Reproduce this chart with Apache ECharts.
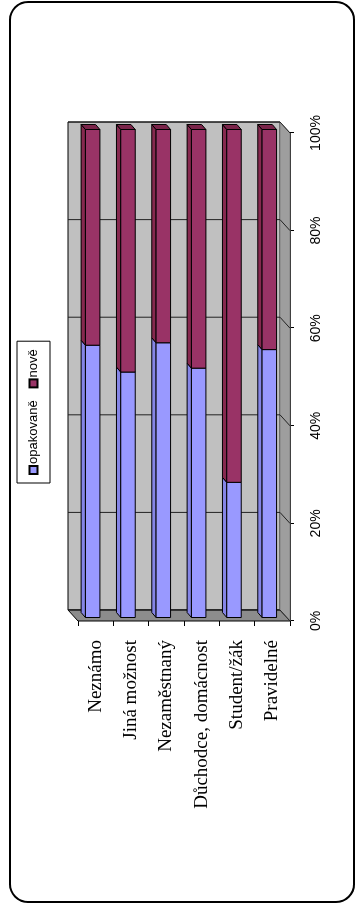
<!DOCTYPE html>
<html>
<head>
<meta charset="utf-8">
<script src="https://cdn.jsdelivr.net/npm/echarts@6/dist/echarts.min.js"></script>
<style>
  html, body { margin: 0; padding: 0; background: #fff; overflow: hidden; width: 355px; height: 910px; }
  /* the chart is laid out landscape and turned a quarter turn counter-clockwise */
  #turn { position: absolute; left: 0; top: 0; width: 910px; height: 355px;
          transform-origin: 0 0; transform: translateY(910px) rotate(-90deg); }
  #chart { width: 910px; height: 355px; }
</style>
</head>
<body>
<div id="turn"><div id="chart"></div></div>
<script>
// shares of repeated vs. new cases per economic activity (percent)
const categories = ['Neznámo', 'Jiná možnost', 'Nezaměstnaný', 'Důchodce, domácnost', 'Student/žák', 'Pravidelné'];
const opakovane = [55.8, 50.3, 56.3, 51.1, 27.7, 54.9];
const nove = [44.2, 49.7, 43.7, 48.9, 72.3, 45.1];
const valueTicks = [0, 20, 40, 60, 80, 100];

// pseudo-3D geometry (pixels): wall depth, bar front offset, bar depth
const WALL = [11, -10];
const FRONT = [3.5, -3];
const DEPTH = [5, -4.3];

function renderWalls(params, api) {
  const cs = params.coordSys;
  const x0 = api.coord([0, 0])[0];
  const x1 = api.coord([100, 0])[0];
  const yT = cs.y, yB = cs.y + cs.height;
  const kids = [];
  // back wall
  kids.push({ type: 'polygon', shape: { points: [
      [x0 + WALL[0], yT + WALL[1]], [x1 + WALL[0], yT + WALL[1]],
      [x1 + WALL[0], yB + WALL[1]], [x0 + WALL[0], yB + WALL[1]]] },
    style: { fill: '#c0c0c0', stroke: '#000', lineWidth: 1 } });
  // floor at the category axis
  kids.push({ type: 'polygon', shape: { points: [
      [x0, yT], [x0 + WALL[0], yT + WALL[1]], [x0 + WALL[0], yB + WALL[1]], [x0, yB]] },
    style: { fill: '#8c8c8c', stroke: '#000', lineWidth: 1 } });
  // side wall along the value axis
  kids.push({ type: 'polygon', shape: { points: [
      [x0, yB], [x0 + WALL[0], yB + WALL[1]], [x1 + WALL[0], yB + WALL[1]], [x1, yB]] },
    style: { fill: '#9e9e9e', stroke: '#808080', lineWidth: 1 } });
  // grid lines on back wall and side wall
  valueTicks.forEach(function (v) {
    const gx = api.coord([v, 0])[0];
    kids.push({ type: 'line', shape: { x1: gx + WALL[0], y1: yT + WALL[1], x2: gx + WALL[0], y2: yB + WALL[1] },
      style: { stroke: '#222', lineWidth: 1 } });
    kids.push({ type: 'line', shape: { x1: gx + WALL[0], y1: yB + WALL[1], x2: gx, y2: yB },
      style: { stroke: '#222', lineWidth: 1 } });
  });
  return { type: 'group', children: kids };
}

function barRenderer(front, side, end, withEnd) {
  return function (params, api) {
    const cat = api.value(0), s = api.value(1), e = api.value(2);
    const a = api.coord([s, cat]);
    const b = api.coord([e, cat]);
    const half = api.size([0, 1])[1] * 0.205;
    const xa = a[0] + FRONT[0], xb = b[0] + FRONT[0];
    const yc = a[1] + FRONT[1];
    const yt = yc - half, yb = yc + half;
    const kids = [
      { type: 'polygon', shape: { points: [[xa, yt], [xb, yt], [xb + DEPTH[0], yt + DEPTH[1]], [xa + DEPTH[0], yt + DEPTH[1]]] },
        style: { fill: side, stroke: '#000', lineWidth: 1 } },
      { type: 'rect', shape: { x: xa, y: yt, width: xb - xa, height: yb - yt },
        style: { fill: front, stroke: '#000', lineWidth: 1 } }
    ];
    if (withEnd) {
      kids.push({ type: 'polygon', shape: { points: [[xb, yt], [xb + DEPTH[0], yt + DEPTH[1]], [xb + DEPTH[0], yb + DEPTH[1]], [xb, yb]] },
        style: { fill: end, stroke: '#000', lineWidth: 1 } });
    }
    return { type: 'group', children: kids };
  };
}

const opakData = categories.map(function (c, i) { return [i, 0, opakovane[i]]; });
const noveData = categories.map(function (c, i) { return [i, opakovane[i], opakovane[i] + nove[i]]; });

const chart = echarts.init(document.getElementById('chart'), null, { renderer: 'canvas' });
chart.setOption({
  animation: false,
  backgroundColor: '#fff',
  graphic: [{
    type: 'rect', z: -10, silent: true,
    shape: { x: 8, y: 10, width: 900, height: 344, r: 18 },
    style: { fill: '#fff', stroke: '#000', lineWidth: 2 }
  }],
  legend: {
    data: ['opakovaně', 'nově'],
    top: 17, left: 427,
    icon: 'rect', itemWidth: 8, itemHeight: 8, itemGap: 12,
    borderColor: '#000', borderWidth: 1, padding: [10, 8],
    textStyle: { fontFamily: 'Liberation Sans, Arial, sans-serif', fontSize: 13, color: '#000', padding: [0, 0, 0, -3] }
  },
  grid: { left: 289, top: 78, width: 488, height: 212, containLabel: false },
  xAxis: {
    type: 'value', min: 0, max: 100, interval: 20, position: 'bottom',
    axisLine: { show: true, lineStyle: { color: '#000', width: 1 } },
    axisTick: { show: true, length: 4, lineStyle: { color: '#000' } },
    splitLine: { show: false },
    axisLabel: { formatter: '{value}%', fontFamily: 'Liberation Sans, Arial, sans-serif', fontSize: 14, color: '#000', margin: 19 }
  },
  yAxis: {
    type: 'category', data: categories, inverse: true,
    axisLine: { show: true, lineStyle: { color: '#000', width: 1 } },
    axisTick: { show: true, length: 5, lineStyle: { color: '#000' } },
    splitLine: { show: false },
    axisLabel: { fontFamily: 'Liberation Serif, Times New Roman, serif', fontSize: 19, color: '#000', margin: 19 }
  },
  series: [
    { type: 'custom', name: 'walls', renderItem: renderWalls, data: [[0, 0, 0]], encode: { x: [1, 2], y: 0 }, z: 1, silent: true, legendHoverLink: false },
    { type: 'custom', name: 'opakovaně', renderItem: barRenderer('#9999ff', '#8585e6', '#7a7ad0', false),
      data: opakData, encode: { x: [1, 2], y: 0 }, z: 3,
      itemStyle: { color: '#9999ff', borderColor: '#000', borderWidth: 1 } },
    { type: 'custom', name: 'nově', renderItem: barRenderer('#993366', '#86294f', '#7a2449', true),
      data: noveData, encode: { x: [1, 2], y: 0 }, z: 4,
      itemStyle: { color: '#993366', borderColor: '#000', borderWidth: 1 } }
  ]
});
</script>
</body>
</html>
